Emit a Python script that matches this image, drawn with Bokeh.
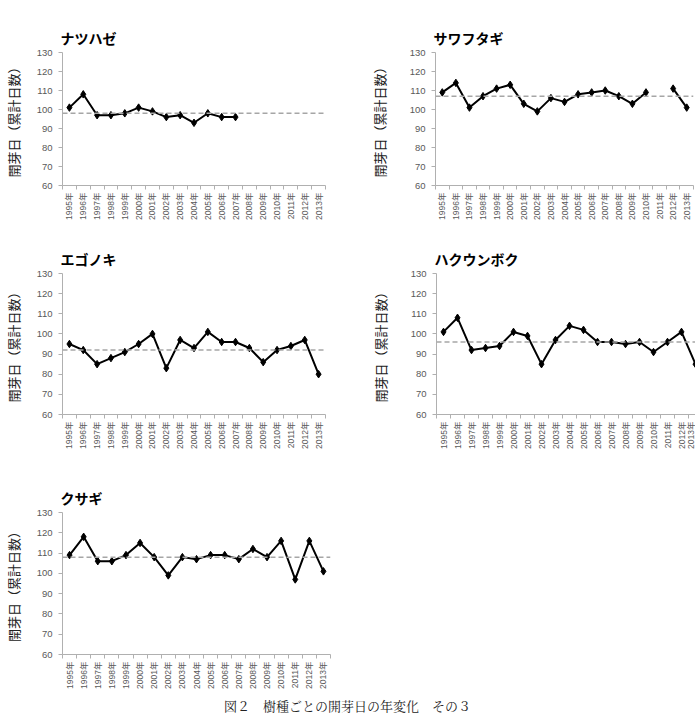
import numpy as np
from bokeh.plotting import figure
from bokeh.models import Range1d, FixedTicker, Span, Title, Div
from bokeh.layouts import row, column
from bokeh.embed import file_html
from bokeh.resources import INLINE

years = ["1995年", "1996年", "1997年", "1998年", "1999年", "2000年", "2001年",
         "2002年", "2003年", "2004年", "2005年", "2006年", "2007年", "2008年",
         "2009年", "2010年", "2011年", "2012年", "2013年"]

natsuhaze = [101, 108, 97, 97, 98, 101, 99, 96, 97, 93, 98, 96, 96,
             None, None, None, None, None, None]
sawafutagi = [109, 114, 101, 107, 111, 113, 103, 99, 106, 104, 108, 109, 110,
              107, 103, 109, None, 111, 101]
egonoki = [95, 92, 85, 88, 91, 95, 100, 83, 97, 93, 101, 96, 96, 93, 86, 92,
           94, 97, 80]
hakuunboku = [101, 108, 92, 93, 94, 101, 99, 85, 97, 104, 102, 96, 96, 95, 96,
              91, 96, 101, 85]
kusagi = [109, 118, 106, 106, 109, 115, 108, 99, 108, 107, 109, 109, 107, 112,
          108, 116, 97, 116, 101]

means = {"ナツハゼ": 98, "サワフタギ": 107, "エゴノキ": 92, "ハクウンボク": 96, "クサギ": 108}
y_ticks = [60, 70, 80, 90, 100, 110, 120, 130]
y_label = "開芽日（累計日数）"
caption = "図２　樹種ごとの開芽日の年変化　その３"

LATIN = "'Liberation Sans', 'Noto Sans CJK JP'"
CJK = "'Noto Sans CJK JP'"


def panel(name, values, width, height, left, right, top, bottom, lab_standoff, x_end=None):
    n = len(years)
    xs = np.arange(n, dtype=float)
    ys = np.array([np.nan if v is None else float(v) for v in values])
    xr = Range1d(-0.5, n - 0.5 if x_end is None else x_end)
    p = figure(width=width, height=height, x_range=xr, y_range=Range1d(60, 130),
               output_backend="svg", toolbar_location=None,
               min_border_left=left, min_border_right=right,
               min_border_top=top, min_border_bottom=bottom)
    p.outline_line_color = None
    p.grid.grid_line_color = None
    p.background_fill_color = "white"
    p.border_fill_color = "white"

    t = Title(text=name, align="left", text_font=CJK, text_font_size="14px",
              text_font_style="bold", text_color="black", offset=-2, standoff=10)
    p.add_layout(t, "above")

    # x axis
    p.xaxis.ticker = FixedTicker(ticks=list(range(n)),
                                 minor_ticks=[i - 0.5 for i in range(n + 1)])
    p.xaxis.major_label_overrides = {i: years[i] for i in range(n)}
    p.xaxis.major_label_orientation = np.pi / 2
    p.xaxis.major_tick_out = 0
    p.xaxis.major_tick_in = 0
    p.xaxis.minor_tick_out = 4
    p.xaxis.minor_tick_in = 0
    p.xaxis.major_label_standoff = 3
    p.xaxis.major_label_text_font = LATIN
    p.xaxis.major_label_text_font_size = "8.5px"
    p.xaxis.major_label_text_color = "#595959"
    p.xaxis.axis_line_color = "#b0b0b0"
    p.xaxis.minor_tick_line_color = "#b0b0b0"

    # y axis
    p.yaxis.ticker = FixedTicker(ticks=y_ticks, minor_ticks=[])
    p.yaxis.major_tick_out = 4
    p.yaxis.major_tick_in = 0
    p.yaxis.major_label_standoff = 6
    p.yaxis.major_label_text_font = LATIN
    p.yaxis.major_label_text_font_size = "9.5px"
    p.yaxis.major_label_text_color = "#595959"
    p.yaxis.axis_line_color = "#b0b0b0"
    p.yaxis.major_tick_line_color = "#b0b0b0"
    p.yaxis.axis_label = y_label
    p.yaxis.axis_label_text_font = CJK
    p.yaxis.axis_label_text_font_size = "13px"
    p.yaxis.axis_label_text_font_style = "normal"
    p.yaxis.axis_label_text_color = "#222222"
    p.yaxis.axis_label_standoff = lab_standoff

    p.add_layout(Span(location=means[name], dimension="width", line_color="#a6a6a6",
                      line_dash="5 3", line_width=1.5))
    p.line(xs, ys, line_color="black", line_width=2)
    p.scatter(xs, ys, marker="diamond", size=7.5, color="black")
    return p


f1 = panel("ナツハゼ", natsuhaze, 345, 240, 60, 20, 44, 54, 11)
f2 = panel("サワフタギ", sawafutagi, 350, 240, 90, 2, 52, 55, 18)
f3 = panel("エゴノキ", egonoki, 345, 240, 60, 20, 33, 66, 11)
f4 = panel("ハクウンボク", hakuunboku, 350, 240, 91, 0, 26, 64, 18, x_end=18.0)
f5 = panel("クサギ", kusagi, 345, 218, 60, 15, 30, 44, 11)

cap = Div(text=caption, width=695, height=22,
          styles={"font-family": "'Noto Serif CJK JP', 'Noto Sans CJK JP'",
                  "font-size": "13px", "color": "#222", "text-align": "center",
                  "width": "695px", "padding-top": "0px", "margin": "0px",
                  "line-height": "15px"})

layout = column(row(f1, f2), row(f3, f4), row(f5), cap, spacing=0)

open("out.html", "w").write(file_html(layout, INLINE))
